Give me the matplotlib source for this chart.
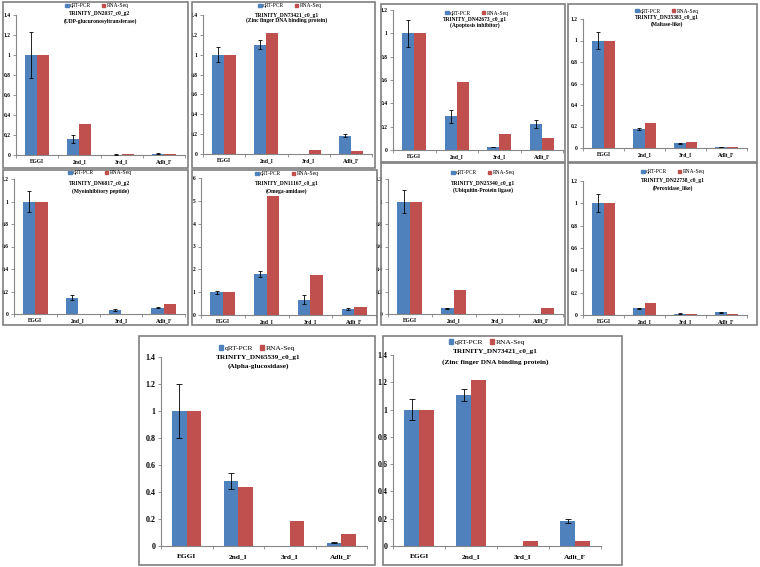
import matplotlib.pyplot as plt
from matplotlib.patches import Rectangle, Patch

# qRT-PCR vs RNA-Seq, 10 genes over 4 stages
stages = ['EGGI', '2nd_I', '3rd_I', 'Adlt_F']

genes = ['TRINITY_DN2037_c0_g2', 'TRINITY_DN73421_c0_g1', 'TRINITY_DN42673_c0_g1',
         'TRINITY_DN35383_c0_g1', 'TRINITY_DN6817_c0_g2', 'TRINITY_DN11167_c0_g1',
         'TRINITY_DN25340_c0_g1', 'TRINITY_DN22738_c0_g1', 'TRINITY_DN65539_c0_g1',
         'TRINITY_DN73421_c0_g1']
names = ['(UDP-glucuronosyltransferase)', '(Zinc finger DNA binding protein)',
         '(Apoptosis inhibitor)', '(Maltase-like)', '(Myoinhibitory peptide)',
         '(Omega-amidase)', '(Ubiquitin-Protein ligase)', '(Peroxidase_like)',
         '(Alpha-glucosidase)', '(Zinc finger DNA binding protein)']

qrt = [[1, 0.16, 0.005, 0.015],
       [1, 1.1, 0, 0.185],
       [1, 0.29, 0.025, 0.225],
       [1, 0.18, 0.045, 0.01],
       [1, 0.145, 0.035, 0.055],
       [1, 1.78, 0.67, 0.27],
       [1, 0.05, 0, 0],
       [1, 0.06, 0.012, 0.025],
       [1, 0.48, 0, 0.025],
       [1, 1.105, 0, 0.185]]
qrt_err = [[0.23, 0.04, 0.003, 0.003],
           [0.075, 0.045, 0, 0.015],
           [0.115, 0.055, 0.003, 0.035],
           [0.08, 0.01, 0.005, 0.002],
           [0.09, 0.02, 0.01, 0.005],
           [0.06, 0.13, 0.2, 0.04],
           [0.1, 0.005, 0, 0],
           [0.08, 0.005, 0.003, 0.005],
           [0.2, 0.06, 0, 0.003],
           [0.075, 0.045, 0, 0.015]]
rnaseq = [[1, 0.315, 0.015, 0.015],
          [1, 1.22, 0.04, 0.035],
          [1, 0.58, 0.14, 0.1],
          [1, 0.23, 0.055, 0.012],
          [1, 0, 0, 0.09],
          [1, 5.22, 1.73, 0.33],
          [1, 0.21, 0, 0.05],
          [1, 0.105, 0.012, 0.01],
          [1, 0.435, 0.185, 0.09],
          [1, 1.22, 0.04, 0.035]]
ymax = [1.4, 1.4, 1.2, 1.2, 1.2, 6, 1.2, 1.2, 1.4, 1.4]
ystep = [0.2, 0.2, 0.2, 0.2, 0.2, 1, 0.2, 0.2, 0.2, 0.2]

# layout in pixels: box (x0, y0, x1, y1), plot area (x0, y0, x1, y1)
boxes = [(3, 2, 188, 168), (192, 2, 375, 168), (381, 4, 565, 162), (568, 4, 757, 162),
         (3, 170, 188, 325), (192, 170, 377, 325), (381, 163, 565, 325), (568, 163, 757, 325),
         (139, 336, 375, 565), (383, 336, 622, 565)]
areas = [(16, 15, 185, 155), (203, 15, 372, 154), (393, 10, 563, 150), (583, 19, 747, 148),
         (14, 179, 185, 314), (201, 178, 376, 315), (388, 179, 563, 314), (583, 181, 747, 315),
         (161, 357, 367, 546), (393, 355, 601, 546)]
leg_y = [6, 6, 13, 11, 173, 174, 173, 172, 348, 342]
leg_x = [97, 290, 477, 667, 100, 287, 483, 673, 257, 487]
tit_x = [100, 287, 475, 667, 100, 287, 483, 673, 258, 495]
tit_y = [(14, 21), (15, 20.5), (19, 25), (17, 24), (184, 191), (184, 191),
         (183, 190), (181, 188), (357, 366), (352, 362)]
big = [False] * 8 + [True, True]

W, H = 760, 567
blue = '#4F81BD'
red = '#C0504D'
serif = 'Liberation Serif'

fig = plt.figure(figsize=(7.6, 5.67), dpi=100)
fig.patch.set_facecolor('white')


def fx(x):
    return x / W


def fy(y):
    return 1 - y / H


for i in range(10):
    if big[i]:
        xt_fs, yt_fs, tit_fs, leg_fs = 5.3, 5.8, 5.2, 5.4
    else:
        xt_fs, yt_fs, tit_fs, leg_fs = 4.0, 4.0, 4.0, 4.0
    bx = boxes[i]
    fig.add_artist(Rectangle((fx(bx[0]), fy(bx[3])), fx(bx[2] - bx[0]), (bx[3] - bx[1]) / H,
                             transform=fig.transFigure, fill=False, edgecolor='#7f7f7f', lw=1.2))
    ar = areas[i]
    ax = fig.add_axes([fx(ar[0]), fy(ar[3]), fx(ar[2] - ar[0]), (ar[3] - ar[1]) / H])
    w = 0.286
    x = range(len(stages))
    ax.bar([k - w / 2 for k in x], qrt[i], w, color=blue, zorder=2)
    ax.bar([k + w / 2 for k in x], rnaseq[i], w, color=red, zorder=2)
    ex = [k - w / 2 for k in x if qrt[i][k] > 0]
    ey = [qrt[i][k] for k in x if qrt[i][k] > 0]
    ee = [qrt_err[i][k] for k in x if qrt[i][k] > 0]
    ax.errorbar(ex, ey, yerr=ee, fmt='none', ecolor='black',
                elinewidth=0.6, capsize=2.5 if big[i] else 1.5, capthick=0.6, zorder=3)
    ax.set_xlim(-0.5, 3.5)
    ax.set_ylim(0, ymax[i])
    n = int(round(ymax[i] / ystep[i]))
    ticks = [round(ystep[i] * k, 2) for k in range(n + 1)]
    ax.set_yticks(ticks)
    ax.set_yticklabels(['%g' % t for t in ticks], fontfamily=serif, fontweight='bold', fontsize=yt_fs)
    ax.set_xticks(list(x))
    ax.set_xticklabels(stages, fontfamily=serif, fontweight='bold', fontsize=xt_fs)
    ax.set_xticks([-0.5, 0.5, 1.5, 2.5, 3.5], minor=True)
    ax.tick_params(axis='x', which='major', length=0, pad=6 if big[i] else 3)
    ax.tick_params(axis='x', which='minor', length=2, width=0.6, color='#868686', direction='out')
    ax.tick_params(axis='y', length=2, width=0.6, color='#868686', pad=2)
    for s in ['top', 'right']:
        ax.spines[s].set_visible(False)
    for s in ['left', 'bottom']:
        ax.spines[s].set_color('#868686')
        ax.spines[s].set_linewidth(0.8)
    ax.patch.set_alpha(0)

    handles = [Patch(color=blue, label='qRT-PCR'), Patch(color=red, label='RNA-Seq')]
    fig.legend(handles=handles, loc='center', bbox_to_anchor=(fx(leg_x[i]), fy(leg_y[i])),
               ncol=2, frameon=False, prop={'family': serif, 'size': leg_fs},
               handlelength=0.6, handleheight=0.6, handletextpad=0.2,
               columnspacing=0.9 if big[i] else 2.0,
               borderpad=0, borderaxespad=0)
    fig.text(fx(tit_x[i]), fy(tit_y[i][0]), genes[i], ha='center', va='center',
             fontfamily=serif, fontweight='bold', fontsize=tit_fs)
    fig.text(fx(tit_x[i]), fy(tit_y[i][1]), names[i], ha='center', va='center',
             fontfamily=serif, fontweight='bold', fontsize=tit_fs)

fig.savefig('out.png', dpi=100)
